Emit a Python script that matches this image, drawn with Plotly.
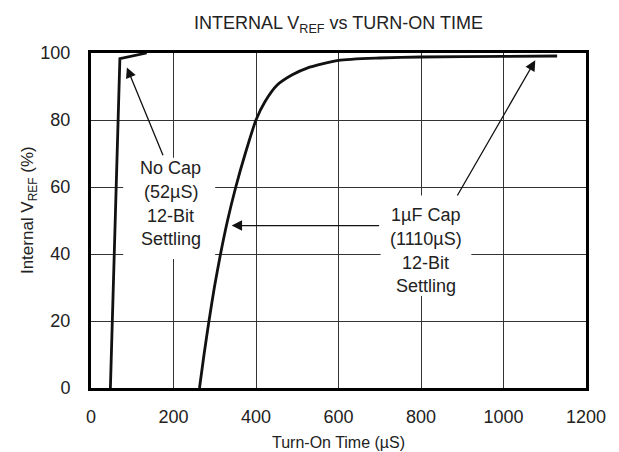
import plotly.graph_objects as go

# ---- data ----
nocap_time = [47, 70, 135]
nocap_vref = [0, 98.3, 100]

cap_time = [263, 274, 286, 299, 314, 331, 351, 374, 400, 422, 452, 488, 524, 600, 700, 800, 1000, 1130]
cap_vref = [0, 10, 20, 30, 40, 50, 60, 70, 80, 85.5, 90.5, 93.5, 95.5, 97.8, 98.5, 98.8, 99.0, 99.1]

x_ticks = [0, 200, 400, 600, 800, 1000, 1200]
y_ticks = [0, 20, 40, 60, 80, 100]

FONT = "Liberation Sans, Arial, sans-serif"
TXT = "#222222"

fig = go.Figure()
fig.add_trace(go.Scatter(x=nocap_time, y=nocap_vref, mode="lines",
                         line=dict(color="#111111", width=2.8), showlegend=False))
fig.add_trace(go.Scatter(x=cap_time, y=cap_vref, mode="lines",
                         line=dict(color="#111111", width=2.8, shape="spline", smoothing=0.6),
                         showlegend=False))

# white label boxes (hide the grid behind the labels)
shapes = [
    dict(type="rect", xref="x", yref="y", x0=78, x1=301, y0=38.5, y1=68.7,
         fillcolor="white", line=dict(width=0), layer="between"),
    dict(type="rect", xref="x", yref="y", x0=702, x1=922, y0=27.5, y1=57.5,
         fillcolor="white", line=dict(width=0), layer="between"),
]

ann = []
nocap_lines = ["No Cap", "(52µS)", "12-Bit", "Settling"]
for i, t in enumerate(nocap_lines):
    ann.append(dict(x=193, y=65.6 - i * 7.07, xref="x", yref="y", text=t,
                    showarrow=False, font=dict(family=FONT, size=18, color=TXT)))
cap_lines = ["1µF Cap", "(1110µS)", "12-Bit", "Settling"]
for i, t in enumerate(cap_lines):
    ann.append(dict(x=812, y=51.6 - i * 7.07, xref="x", yref="y", text=t,
                    showarrow=False, font=dict(family=FONT, size=18, color=TXT)))

# arrows
arrows = [((87, 95.7), (176, 69)), ((341, 48.5), (702, 48.5)), ((1077, 97.8), (886, 57))]
for (tx, ty), (sx, sy) in arrows:
    ann.append(dict(x=tx, y=ty, ax=sx, ay=sy, xref="x", yref="y", axref="x", ayref="y",
                    text="", showarrow=True, arrowhead=2, arrowsize=1.6, arrowwidth=1.3,
                    arrowcolor="#111111", standoff=0, startstandoff=0))

# axis titles and chart title
ann.append(dict(x=0.5, y=-0.163, xref="paper", yref="paper", text="Turn-On Time (µS)",
                showarrow=False, yanchor="middle", font=dict(family=FONT, size=16, color=TXT)))
ann.append(dict(x=-0.124, y=0.53, xref="paper", yref="paper", text="Internal V<sub>REF</sub> (%)",
                showarrow=False, textangle=-90, xanchor="center", yanchor="middle",
                font=dict(family=FONT, size=17, color=TXT)))
ann.append(dict(x=0.5, y=1.0, xref="paper", yref="paper", yshift=29,
                text="INTERNAL V<sub>REF</sub> vs TURN-ON TIME",
                showarrow=False, yanchor="middle", font=dict(family=FONT, size=18, color=TXT)))

axis_common = dict(showgrid=True, gridcolor="#333333", gridwidth=1, zeroline=False,
                   showline=True, mirror=True, linecolor="#000000", linewidth=3,
                   ticks="", tickfont=dict(family=FONT, size=18, color=TXT))

fig.update_layout(
    width=619, height=452,
    margin=dict(l=83, r=41, t=45, b=72),
    paper_bgcolor="white", plot_bgcolor="white",
    xaxis=dict(range=[0, 1200], tickvals=x_ticks, ticklabelstandoff=10, **axis_common),
    yaxis=dict(range=[0, 100], tickvals=y_ticks, ticklabelstandoff=14, **axis_common),
    shapes=shapes, annotations=ann, showlegend=False,
)

fig.write_html("out.html")
